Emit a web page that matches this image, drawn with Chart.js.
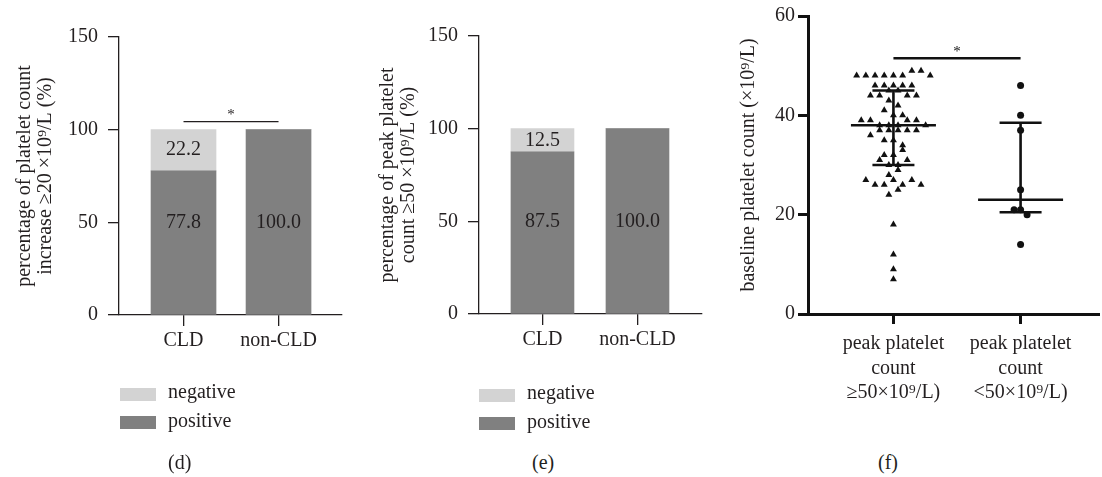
<!DOCTYPE html>
<html>
<head>
<meta charset="utf-8">
<script src="https://cdn.jsdelivr.net/npm/chart.js@4.4.1/dist/chart.umd.min.js"></script>
<style>
  body { margin: 0; background: #fff; }
  #wrap { position: relative; width: 1102px; height: 477px; overflow: hidden;
          font-family: 'Liberation Serif', 'DejaVu Serif', serif; font-size: 20px; color: #231f20; }
  canvas, .lg, .sw, .pl { position: absolute; }
  .lg, .pl { line-height: 20px; white-space: nowrap; }
  .sw { width: 36px; height: 13px; }
  .neg { background: #d3d3d3; }
  .pos { background: #808080; }
</style>
</head>
<body>
<div id="wrap">
  <canvas id="chartD" width="360" height="400" style="left:0;top:0"></canvas>
  <canvas id="chartE" width="360" height="400" style="left:360px;top:0"></canvas>
  <canvas id="chartF" width="382" height="420" style="left:720px;top:0"></canvas>

  <!-- legends (d) and (e) -->
  <div class="sw neg" style="left:120px;top:388px"></div><div class="lg" style="left:168px;top:381px">negative</div>
  <div class="sw pos" style="left:120px;top:416px"></div><div class="lg" style="left:168px;top:410px">positive</div>
  <div class="sw neg" style="left:479px;top:389px"></div><div class="lg" style="left:527px;top:382px">negative</div>
  <div class="sw pos" style="left:479px;top:417px"></div><div class="lg" style="left:527px;top:411px">positive</div>

  <div class="pl" style="left:168px;top:452px">(d)</div>
  <div class="pl" style="left:532px;top:452px">(e)</div>
  <div class="pl" style="left:878px;top:452px">(f)</div>
</div>
<script>
// categories
const groups = ['CLD', 'non-CLD'];
const pctTicks = [0, 50, 100, 150];

// (d) platelet count increase >= 20x10^9/L
const dPositive = [77.8, 100.0];
const dNegative = [22.2, 0];

// (e) peak platelet count >= 50x10^9/L
const ePositive = [87.5, 100.0];
const eNegative = [12.5, 0];

// (f) baseline platelet count per group (listed top to bottom, left to right as plotted)
const fGroups = [['peak platelet', 'count', '≥50×10⁹/L)'], ['peak platelet', 'count', '<50×10⁹/L)']];
const fTicks = [0, 20, 40, 60];
const fHigh = [48, 48, 48, 48, 48, 48, 49, 49, 48,
               46, 46, 46, 46, 46,
               44, 44, 45, 45, 44, 44,
               43, 42,
               41, 40, 40,
               39, 39, 38, 38, 38, 39, 39, 38,
               36, 37, 37, 37, 37, 37,
               35, 35, 34,
               32, 32, 33,
               31, 30, 30, 31,
               28, 29,
               27, 26, 26, 27, 26, 27, 26,
               24, 25,
               18, 12, 9, 7];
const fLow = [46, 40, 37, 25, 21, 21, 20, 14];
const fMedian = [38, 23];
const fQ1 = [30, 20.5];
const fQ3 = [45, 38.5];

// significance bars (y value of the bar)
const sigD = [104.3];
const sigF = [51.5];

const ink = '#231f20';
const serif = "'Liberation Serif', 'DejaVu Serif', serif";
Chart.defaults.font.family = serif;
Chart.defaults.font.size = 20;
Chart.defaults.color = ink;

// labels inside the stacked bars
const barLabels = {
  id: 'barLabels',
  afterDatasetsDraw(chart) {
    const { ctx } = chart;
    const y = chart.scales.y;
    ctx.save();
    ctx.font = '20px ' + serif;
    ctx.fillStyle = ink;
    ctx.textAlign = 'center';
    ctx.textBaseline = 'middle';
    chart.data.datasets.forEach((ds, di) => {
      chart.getDatasetMeta(di).data.forEach((bar, i) => {
        const v = ds.data[i].y;
        if (!v) return;
        let yc;
        if (di === 0) {
          const total = chart.data.datasets.reduce((s, d) => s + d.data[i].y, 0);
          yc = y.getPixelForValue(total / 2);
        } else {
          yc = (bar.y + bar.base) / 2;
        }
        ctx.fillText(v.toFixed(1), bar.x, yc);
      });
    });
    ctx.restore();
  }
};

// line with a star between the two groups
const sigBar = {
  id: 'sigBar',
  afterDatasetsDraw(chart, args, opts) {
    const { ctx } = chart;
    const { x, y } = chart.scales;
    const yp = y.getPixelForValue(opts.level);
    const x1 = x.getPixelForValue(1), x2 = x.getPixelForValue(2);
    ctx.save();
    ctx.strokeStyle = opts.color;
    ctx.lineWidth = opts.width;
    ctx.beginPath();
    ctx.moveTo(x1, yp);
    ctx.lineTo(x2, yp);
    ctx.stroke();
    ctx.fillStyle = opts.color;
    ctx.font = '15px ' + serif;
    ctx.textAlign = 'center';
    ctx.textBaseline = 'alphabetic';
    ctx.fillText('*', (x1 + x2) / 2, yp - 2.5);
    ctx.restore();
  }
};

// median and interquartile range bars
const medianIqr = {
  id: 'medianIqr',
  afterDatasetsDraw(chart, args, opts) {
    const { ctx } = chart;
    const { x, y } = chart.scales;
    ctx.save();
    ctx.strokeStyle = '#111';
    ctx.lineWidth = opts.width;
    fMedian.forEach((m, i) => {
      const cx = x.getPixelForValue(i + 1);
      const ym = y.getPixelForValue(m);
      const y1 = y.getPixelForValue(fQ1[i]);
      const y3 = y.getPixelForValue(fQ3[i]);
      ctx.beginPath();
      ctx.moveTo(cx - opts.medianHalf, ym); ctx.lineTo(cx + opts.medianHalf, ym);
      ctx.moveTo(cx - opts.iqrHalf, y1); ctx.lineTo(cx + opts.iqrHalf, y1);
      ctx.moveTo(cx - opts.iqrHalf, y3); ctx.lineTo(cx + opts.iqrHalf, y3);
      ctx.moveTo(cx, y1); ctx.lineTo(cx, y3);
      ctx.stroke();
    });
    ctx.restore();
  }
};

function barChart(id, pos, neg, o) {
  const axisGrid = (len) => ({ drawOnChartArea: false, drawTicks: true, tickLength: len, color: ink, lineWidth: 1.3, offset: false });
  return new Chart(document.getElementById(id), {
    type: 'bar',
    data: {
      datasets: [
        { label: 'positive', data: pos.map((v, i) => ({ x: i + 1, y: v })), backgroundColor: '#808080' },
        { label: 'negative', data: neg.map((v, i) => ({ x: i + 1, y: v })), backgroundColor: '#d3d3d3' }
      ]
    },
    options: {
      responsive: false, animation: false, devicePixelRatio: 1, events: [],
      layout: { padding: { top: o.top, right: o.right, left: 0, bottom: 0 } },
      datasets: { bar: { barThickness: o.barW, borderWidth: 0 } },
      plugins: {
        legend: { display: false }, tooltip: { enabled: false },
        sigBar: { level: o.sig, color: ink, width: 1.3 }
      },
      scales: {
        x: {
          type: 'linear', stacked: true, offset: false, min: o.xMin, max: o.xMax,
          afterBuildTicks: s => { s.ticks = groups.map((g, i) => ({ value: i + 1 })); },
          afterFit: s => { s.height = o.xH; },
          ticks: { callback: v => groups[v - 1], padding: 3, autoSkip: false, maxRotation: 0, font: { lineHeight: 1.2 } },
          grid: axisGrid(11),
          border: { display: true, color: ink, width: 1.3 }
        },
        y: {
          stacked: true, min: 0, max: 150,
          afterBuildTicks: s => { s.ticks = pctTicks.map(v => ({ value: v })); },
          afterFit: s => { s.width = o.yW; },
          ticks: { padding: 10 },
          grid: axisGrid(11),
          border: { display: true, color: ink, width: 1.3 },
          title: { display: true, text: o.title, font: { size: 20, lineHeight: 1.05 }, padding: { top: o.titlePad, bottom: 0 } }
        }
      }
    },
    plugins: [barLabels, o.sig != null ? sigBar : { id: 'none' }]
  });
}

barChart('chartD', dPositive, dNegative, {
  top: 37, right: 18, barW: 65, xMin: 0.321, xMax: 2.668, xH: 85, yW: 119, titlePad: 14.5,
  sig: sigD[0],
  title: ['percentage of platelet count', 'increase ≥20 ×10⁹/L (%)']
});

barChart('chartE', ePositive, eNegative, {
  top: 36, right: 18, barW: 63, xMin: 0.332, xMax: 2.679, xH: 86, yW: 119, titlePad: 17.5,
  sig: null,
  title: ['percentage of peak platelet', 'count ≥50 ×10⁹/L (%)']
});

const fAxisGrid = { drawOnChartArea: false, drawTicks: true, tickLength: 10, color: '#111', lineWidth: 3, offset: false };
const chartF = new Chart(document.getElementById('chartF'), {
  type: 'scatter',
  data: {
    datasets: [
      { data: fHigh.map(v => ({ x: 1, y: v })), pointStyle: 'triangle', pointRadius: 4, backgroundColor: '#111', borderWidth: 0 },
      { data: fLow.map(v => ({ x: 2, y: v })), pointStyle: 'circle', pointRadius: 3.5, backgroundColor: '#111', borderWidth: 0 }
    ]
  },
  options: {
    responsive: false, animation: false, devicePixelRatio: 1, events: [],
    layout: { padding: { top: 16, right: 2, left: 0, bottom: 0 } },
    plugins: {
      legend: { display: false }, tooltip: { enabled: false },
      sigBar: { level: sigF[0], color: '#111', width: 2.5 },
      medianIqr: { width: 2.6, medianHalf: 42.5, iqrHalf: 21 }
    },
    scales: {
      x: {
        type: 'linear', min: 0.328, max: 2.609, offset: false,
        afterBuildTicks: s => { s.ticks = fGroups.map((g, i) => ({ value: i + 1 })); },
        afterFit: s => { s.height = 106; },
        ticks: { callback: v => fGroups[v - 1], padding: 8, autoSkip: false, maxRotation: 0, font: { lineHeight: 1.22 } },
        grid: fAxisGrid,
        border: { display: true, color: '#111', width: 3 }
      },
      y: {
        min: 0, max: 60,
        afterBuildTicks: s => { s.ticks = fTicks.map(v => ({ value: v })); },
        afterFit: s => { s.width = 88; },
        ticks: { padding: 3 },
        grid: fAxisGrid,
        border: { display: true, color: '#111', width: 3 },
        title: { display: true, text: 'baseline platelet count (×10⁹/L)', font: { size: 20, lineHeight: 1.0 }, padding: { top: 19, bottom: 0 } }
      }
    }
  },
  plugins: [sigBar, medianIqr]
});

// column scatter: values in the same 2-unit band are spread side by side
const binSize = 2;
const swarmStep = [9.2, 6.5];
function swarm(chart) {
  const xs = chart.scales.x;
  chart.data.datasets.forEach((ds, di) => {
    const cx = xs.getPixelForValue(di + 1);
    const bins = new Map();
    ds.data.forEach(p => {
      const b = Math.floor(p.y / binSize);
      if (!bins.has(b)) bins.set(b, []);
      bins.get(b).push(p);
    });
    bins.forEach(pts => pts.forEach((p, j) => {
      p.x = xs.getValueForPixel(cx + (j - (pts.length - 1) / 2) * swarmStep[di]);
    }));
  });
  chart.update('none');
}
swarm(chartF);
</script>
</body>
</html>
